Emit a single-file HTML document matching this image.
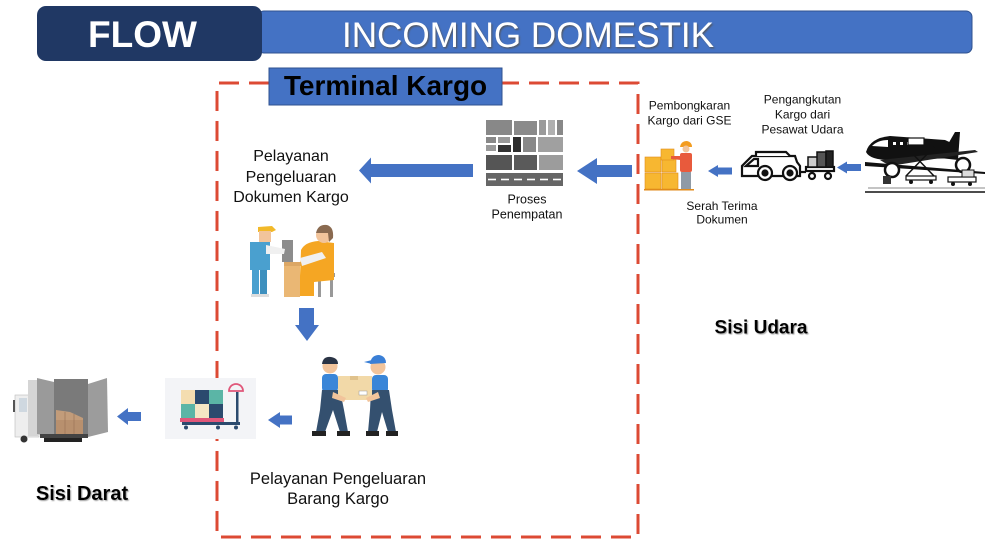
<!DOCTYPE html>
<html><head><meta charset="utf-8"><style>
html,body{margin:0;padding:0;background:#fff;width:992px;height:546px;overflow:hidden}
svg{display:block}
text{font-family:"Liberation Sans",Arial,sans-serif}
</style></head><body>
<svg width="992" height="546" viewBox="0 0 992 546" xmlns="http://www.w3.org/2000/svg">
<defs>
<filter id="sh" x="-5%" y="-20%" width="110%" height="150%"><feDropShadow dx="1.2" dy="1.5" stdDeviation="0.8" flood-color="#555" flood-opacity="0.8"/></filter>
<filter id="sh2" x="-5%" y="-20%" width="110%" height="150%"><feDropShadow dx="1" dy="1" stdDeviation="0.6" flood-color="#888" flood-opacity="0.8"/></filter>
</defs>

<!-- Header -->
<rect x="258" y="11" width="714" height="42" rx="6" fill="#4472c4" stroke="#2f528f" stroke-width="1"/>
<rect x="37" y="6" width="225" height="55" rx="9" fill="#203864"/>
<text x="142.5" y="47" font-size="37" font-weight="bold" fill="#fff" text-anchor="middle">FLOW</text>
<text x="342" y="47" font-size="35" fill="#fff" textLength="372" lengthAdjust="spacingAndGlyphs" filter="url(#sh)">INCOMING DOMESTIK</text>

<!-- Dashed terminal box -->
<path d="M269 83 L217 83 L217 537 L638 537 L638 83 L502 83" fill="none" stroke="#dc4a34" stroke-width="3" stroke-dasharray="20 10"/>
<rect x="269" y="68" width="233" height="37" fill="#4472c4" stroke="#2f528f" stroke-width="1"/>
<text x="385.5" y="95" font-size="28" font-weight="bold" fill="#000" text-anchor="middle">Terminal Kargo</text>

<!-- Arrows -->
<g fill="#4472c4">
<path d="M359 170.5 L371 157.5 L371 164 L473 164 L473 177 L371 177 L371 183.5 Z"/>
<path d="M577 171 L597 158 L597 165 L632 165 L632 177 L597 177 L597 184 Z"/>
<path d="M708 171 L718 165 L718 167.5 L732 167.5 L732 174.5 L718 174.5 L718 177 Z"/>
<path d="M837 167.5 L847 161.5 L847 164 L861 164 L861 171 L847 171 L847 173.5 Z"/>
<path d="M268 420 L280 412 L280 415.5 L292 415.5 L292 424.5 L280 424.5 L280 428 Z"/>
<path d="M117 416.5 L128 408 L128 412 L141 412 L141 421 L128 421 L128 425 Z"/>
<path d="M299 308 L314 308 L314 325 L319 325 L307 341 L295 325 L299 325 Z"/>
</g>

<!-- Texts -->
<g font-size="16" fill="#111" text-anchor="middle">
<text x="291" y="161">Pelayanan</text>
<text x="291" y="182">Pengeluaran</text>
<text x="291" y="202">Dokumen Kargo</text>
<text x="338" y="484" font-size="16.5">Pelayanan Pengeluaran</text>
<text x="338" y="504" font-size="16.5">Barang Kargo</text>
</g>
<g font-size="12.5" fill="#111" text-anchor="middle">
<text x="527" y="203.5">Proses</text>
<text x="527" y="218.5">Penempatan</text>
<text x="689.5" y="109.5" font-size="12">Pembongkaran</text>
<text x="689.5" y="124.5" font-size="12">Kargo dari GSE</text>
<text x="802.5" y="103.5" font-size="12">Pengangkutan</text>
<text x="802.5" y="118.5" font-size="12">Kargo dari</text>
<text x="802.5" y="133.5" font-size="12">Pesawat Udara</text>
<text x="722" y="210" font-size="12">Serah Terima</text>
<text x="722" y="223.5" font-size="12">Dokumen</text>
</g>
<text x="761" y="333.5" font-size="19" font-weight="bold" fill="#000" text-anchor="middle" filter="url(#sh2)">Sisi Udara</text>
<text x="82" y="500" font-size="20" font-weight="bold" fill="#000" text-anchor="middle" filter="url(#sh2)">Sisi Darat</text>

<!-- Proses Penempatan icon -->
<g>
<rect x="486" y="120" width="26" height="15" fill="#888"/>
<rect x="514" y="121" width="23" height="14" fill="#8a8a8a"/>
<rect x="539" y="120" width="7" height="15" fill="#9a9a9a"/>
<rect x="548" y="120" width="7" height="15" fill="#b0b0b0"/>
<rect x="557" y="120" width="6" height="15" fill="#888"/>
<rect x="486" y="137" width="10" height="6" fill="#888"/>
<rect x="498" y="137" width="12" height="6" fill="#999"/>
<rect x="486" y="145" width="10" height="6" fill="#999"/>
<rect x="498" y="145" width="13" height="7" fill="#333"/>
<rect x="513" y="137" width="8" height="15" fill="#2e2e2e"/>
<rect x="523" y="137" width="13" height="15" fill="#888"/>
<rect x="538" y="137" width="25" height="15" fill="#a0a0a0"/>
<rect x="486" y="155" width="26" height="15" fill="#555"/>
<rect x="514" y="155" width="23" height="15" fill="#5a5a5a"/>
<rect x="539" y="155" width="24" height="15" fill="#9c9c9c"/>
<rect x="486" y="173" width="77" height="13" fill="#666"/>
<g stroke="#fff" stroke-width="1.6"><line x1="488" y1="179.5" x2="496" y2="179.5"/><line x1="501" y1="179.5" x2="509" y2="179.5"/><line x1="514" y1="179.5" x2="522" y2="179.5"/><line x1="527" y1="179.5" x2="535" y2="179.5"/><line x1="540" y1="179.5" x2="548" y2="179.5"/><line x1="553" y1="179.5" x2="561" y2="179.5"/></g>
</g>

<!-- Desk icon -->
<g>
<rect x="282" y="240" width="11" height="22" fill="#8c8c8c"/>
<rect x="284" y="264" width="16" height="33" fill="#eab774"/>
<rect x="284" y="262" width="36" height="4" fill="#dca765"/>
<rect x="318" y="275" width="3" height="22" fill="#999"/>
<rect x="330" y="275" width="3" height="22" fill="#999"/>
<rect x="315" y="273" width="20" height="4" fill="#999"/>
<path d="M301 250 Q305 242 318 241 L334 243 L334 280 L314 282 L314 296 L300 296 L300 276 Z" fill="#f5a623"/>
<path d="M300 258 L322 252 L326 258 L302 266 Z" fill="#f0f0f0"/>
<circle cx="324" cy="235" r="8" fill="#f2c49b"/>
<path d="M316 233 Q318 224 327 225 Q334 227 333 238 L329 242 L328 233 Z" fill="#8a6a50"/>
<path d="M258 227 L272 226 L276 230 L272 232 L258 232 Z" fill="#f2b929"/>
<rect x="259" y="231" width="12" height="11" fill="#f2c49b"/>
<rect x="250" y="242" width="20" height="28" fill="#4aa0cf"/>
<path d="M266 245 L285 249 L284 254 L266 254 Z" fill="#f0f0f0"/>
<rect x="252" y="270" width="7" height="26" fill="#4aa0cf"/>
<rect x="260" y="270" width="7" height="26" fill="#3e90be"/>
<rect x="251" y="294" width="18" height="3" fill="#ddd"/>
</g>

<!-- Two workers -->
<g>
<circle cx="330" cy="366" r="7.5" fill="#f2c49b"/>
<path d="M322 364 Q323 356 331 357 Q338 358 338 364 Z" fill="#2a3445"/>
<rect x="322" y="374" width="16" height="18" rx="4" fill="#3a86d8"/>
<path d="M322 390 L340 390 L344 410 L348 432 L340 432 L333 410 L325 432 L316 432 L320 410 Z" fill="#34506f"/>
<rect x="312" y="431" width="14" height="5" fill="#222"/>
<rect x="337" y="431" width="13" height="5" fill="#222"/>
<circle cx="378" cy="367" r="7.5" fill="#f2c49b"/>
<path d="M370 364 Q371 355 379 355 Q386 356 386 363 L370 364 Z M364 362 L372 360 L372 364 Z" fill="#3a7fd6"/>
<rect x="372" y="375" width="16" height="18" rx="4" fill="#3a86d8"/>
<path d="M371 390 L389 390 L392 410 L396 432 L388 432 L382 412 L377 432 L368 432 L370 410 Z" fill="#34506f"/>
<rect x="366" y="431" width="13" height="5" fill="#222"/>
<rect x="386" y="431" width="12" height="5" fill="#222"/>
<rect x="338" y="376" width="34" height="24" fill="#f2d9a8"/>
<rect x="350" y="376" width="8" height="4" fill="#e0c28c"/>
<rect x="359" y="391" width="8" height="4" fill="#fff" stroke="#999" stroke-width="0.5"/>
<path d="M333 392 L346 398 L344 402 L332 398 Z M378 392 L366 398 L368 402 L380 398 Z" fill="#f2c49b"/>
</g>

<!-- Scale icon -->
<g>
<rect x="165" y="378" width="91" height="61" fill="#f3f4f7"/>
<rect x="181" y="390" width="14" height="14" fill="#f4ddb0"/>
<rect x="195" y="390" width="14" height="14" fill="#2b4a6e"/>
<rect x="209" y="390" width="14" height="14" fill="#5bb5a6"/>
<rect x="181" y="404" width="14" height="14" fill="#5bb5a6"/>
<rect x="195" y="404" width="14" height="14" fill="#f4e6c4"/>
<rect x="209" y="404" width="14" height="14" fill="#2b4a6e"/>
<rect x="180" y="418" width="44" height="4" fill="#e0577a"/>
<rect x="182" y="422" width="58" height="3" fill="#2b4a6e"/>
<rect x="236" y="392" width="2.5" height="33" fill="#2b4a6e"/>
<circle cx="186" cy="427.5" r="2" fill="#2b4a6e"/><circle cx="218" cy="427.5" r="2" fill="#2b4a6e"/><circle cx="236" cy="427.5" r="2" fill="#2b4a6e"/>
<path d="M229 391 A7 7 0 0 1 243 391 Z" fill="none" stroke="#e0577a" stroke-width="1.8"/>
</g>

<!-- Truck -->
<g>
<rect x="15" y="395" width="24" height="42" fill="#eeeeee" stroke="#bbb" stroke-width="0.6"/>
<rect x="19" y="398" width="8" height="14" fill="#cfd8e0"/>
<rect x="13" y="400" width="2" height="12" fill="#555"/>
<rect x="28" y="380" width="10" height="56" fill="#d5d5d5"/>
<polygon points="37,378 54,382 54,437 37,434" fill="#9a9a9a"/>
<rect x="54" y="379" width="34" height="55" fill="#7a7a7a"/>
<rect x="56" y="420" width="27" height="14" fill="#b8906e"/>
<polygon points="56,410 70,412 83,418 83,420 56,420" fill="#c29c7a"/>
<line x1="65" y1="412" x2="65" y2="434" stroke="#9a7658" stroke-width="0.7"/><line x1="74" y1="414" x2="74" y2="434" stroke="#9a7658" stroke-width="0.7"/>
<polygon points="88,384 107,378 108,432 88,437" fill="#9c9c9c"/>
<rect x="40" y="434" width="48" height="4" fill="#444"/>
<rect x="44" y="438" width="38" height="4" fill="#222"/>
<circle cx="24" cy="439" r="3.5" fill="#333"/>
</g>

<!-- Boxes man (GSE) -->
<g stroke="#e08a1a" stroke-width="0.6">
<rect x="645" y="157" width="16" height="15" fill="#f7b731"/>
<rect x="662" y="157" width="14" height="15" fill="#f7b731"/>
<rect x="645" y="173" width="16" height="16" fill="#f7b731"/>
<rect x="662" y="173" width="16" height="16" fill="#f7b731"/>
<rect x="661" y="149" width="13" height="11" fill="#f7b731"/>
</g>
<g>
<path d="M680 147 Q681 141 687 141 Q692 142 692 147 Z" fill="#f39c1f"/>
<circle cx="686" cy="149" r="3.5" fill="#f2c49b"/>
<rect x="680" y="153" width="12" height="19" rx="2" fill="#e85a3c"/>
<path d="M681 156 L671 156 L671 159 L681 160 Z" fill="#e85a3c"/>
<rect x="681" y="172" width="10" height="17" fill="#8f9aa5"/>
<rect x="644" y="189" width="50" height="1.5" fill="#e08a1a"/>
</g>

<!-- Tug & cart -->
<g fill="none" stroke="#111" stroke-width="2.2">
<path d="M742 176 L742 166 L752 156 L795 156 L797 162 L800 166 L800 176 Z" fill="#fff"/>
<path d="M756 156 L756 152 L786 152 L790 156" fill="#fff"/>
<path d="M746 166 L754 159 L758 159 L758 166 Z"/>
<circle cx="765" cy="173" r="7" fill="#fff"/><circle cx="765" cy="173" r="2.5" fill="#111"/>
<circle cx="790" cy="173" r="7" fill="#fff"/><circle cx="790" cy="173" r="2.5" fill="#111"/>
<line x1="800" y1="172" x2="806" y2="172"/>
<rect x="806" y="167" width="28" height="4" fill="#fff"/>
<circle cx="812" cy="176" r="3" fill="#fff"/><circle cx="828" cy="176" r="3" fill="#fff"/>
</g>
<rect x="808" y="157" width="10" height="10" fill="#ccc" stroke="#111" stroke-width="1.5"/>
<rect x="817" y="152" width="9" height="15" fill="#555" stroke="#111" stroke-width="1.5"/>
<rect x="826" y="151" width="7" height="16" fill="#222" stroke="#111" stroke-width="1.5"/>

<!-- Plane -->
<g>
<path d="M866 152 Q870 138 890 136 L945 140 L958 146 L958 158 L890 160 Q870 160 866 152 Z" fill="#111"/>
<path d="M872 146 Q878 140 888 140 L888 147 Z" fill="#fff"/>
<rect x="893" y="142" width="3" height="3" fill="#fff"/><rect x="900" y="142" width="3" height="3" fill="#fff"/><rect x="907" y="142" width="3" height="3" fill="#fff"/>
<path d="M940 158 L955 132 L960 132 L958 160 Z" fill="#111"/>
<path d="M865 162 L985 172 L985 174 L865 166 Z" fill="#111"/>
<path d="M880 160 L975 150 L978 152 L890 166 Z" fill="#222"/>
<circle cx="892" cy="170" r="7" fill="#fff" stroke="#111" stroke-width="2.5"/>
<circle cx="963" cy="165" r="7" fill="#fff" stroke="#111" stroke-width="2.5"/>
<rect x="908" y="138" width="16" height="7" fill="#fff" stroke="#111" stroke-width="1.2"/>
<path d="M906 147 L934 176 M934 147 L906 176" stroke="#111" stroke-width="1.5"/>
<rect x="906" y="176" width="30" height="4" fill="#fff" stroke="#111" stroke-width="1.2"/>
<circle cx="911" cy="182" r="2" fill="#111"/><circle cx="931" cy="182" r="2" fill="#111"/>
<rect x="883" y="176" width="8" height="8" fill="#333"/>
<rect x="948" y="177" width="28" height="5" fill="#fff" stroke="#111" stroke-width="1.2"/>
<rect x="962" y="170" width="12" height="7" fill="#ddd" stroke="#111" stroke-width="1"/>
<circle cx="953" cy="184" r="2" fill="#111"/><circle cx="970" cy="184" r="2" fill="#111"/>
<line x1="868" y1="188" x2="985" y2="188" stroke="#888" stroke-width="1"/>
<line x1="865" y1="192" x2="985" y2="192" stroke="#111" stroke-width="1.5"/>
</g>
</svg>
</body></html>
